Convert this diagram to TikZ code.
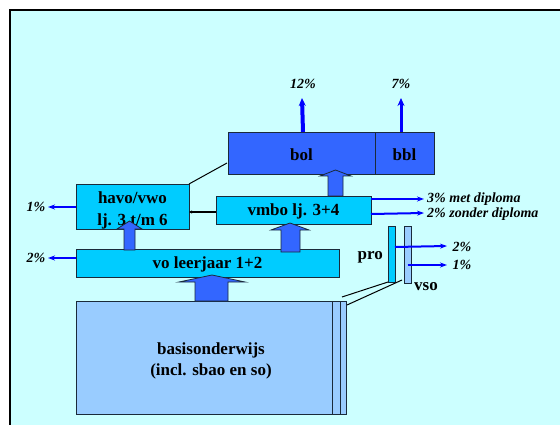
\documentclass[tikz,border=0pt]{standalone}
\usepackage{fontspec}
\setmainfont{Liberation Serif}
\usetikzlibrary{arrows.meta,calc}
\definecolor{bgc}{HTML}{CCFFFF}
\definecolor{cyanbox}{HTML}{00CCFF}
\definecolor{darkbox}{HTML}{3366FF}
\definecolor{lightbox}{HTML}{99CCFF}
\definecolor{arrblue}{HTML}{0000FF}
\definecolor{edge}{HTML}{1A2A3A}
\tikzset{
  box/.style={draw=edge, line width=0.8pt, inner sep=0pt, outer sep=0pt, anchor=north west,
    align=center, font=\fontsize{17}{21.5}\selectfont\bfseries},
  lab/.style={font=\fontsize{14}{16}\selectfont\bfseries\itshape, inner sep=0pt},
  side/.style={font=\fontsize{17}{19}\selectfont\bfseries, inner sep=0pt},
  bluearr/.style={draw=arrblue, line width=2pt, -{Stealth[length=7pt,width=5pt]}},
  upblue/.style={draw=arrblue, line width=4pt, -{Stealth[length=8pt,width=7pt]}},
  blockarr/.style={fill=darkbox, draw=edge, line width=0.8pt},
  link/.style={draw=black, line width=1pt},
}
\begin{document}
\begin{tikzpicture}[x=1pt,y=-1pt]
\useasboundingbox (0,0) rectangle (560,425);
\fill[white] (0,0) rectangle (560,425);
\fill[bgc] (10,10) rectangle (560,425);
\draw[line width=2pt] (10,425) -- (10,10) -- (560,10);

% boxes
\node[box, fill=darkbox, minimum width=147pt, minimum height=42pt] (bol) at (228,132) {\rule{0pt}{15pt}bol};
\node[box, fill=darkbox, minimum width=59pt, minimum height=42pt] (bbl) at (375,132) {\rule{0pt}{15pt}bbl};
\node[box, fill=cyanbox, minimum width=113pt, minimum height=42pt] (havo) at (76,184) {\rule{0pt}{20pt}havo/vwo\\lj. 3 t/m 6};
\node[box, fill=cyanbox, minimum width=155pt, minimum height=28pt] (vmbo) at (216,196) {\rule{0pt}{15pt}vmbo lj. 3+4};
\node[box, fill=cyanbox, minimum width=263pt, minimum height=28pt] (vo) at (76,249) {\rule{0pt}{15pt}vo leerjaar 1+2};
\node[box, fill=lightbox, minimum width=270pt, minimum height=113pt] (basis) at (76,301) {\rule{0pt}{19pt}basisonderwijs\\(incl. sbao en so)};
\node[box, fill=cyanbox, minimum width=7pt, minimum height=56pt] (pro) at (388,226) {};
\node[box, fill=lightbox, minimum width=7pt, minimum height=57pt] (vso) at (404,226) {};
\draw[draw=edge, line width=0.8pt] (332,301) -- (332,414) (340,301) -- (340,414);

% side labels
\node[side, anchor=east] (prol) at (383,257) {pro};
\node[side, anchor=west] (vsol) at (414,287) {vso};

% black links
\draw[link] (havo.north east) -- (227,163);
\draw[link, line width=1.8pt, -{Stealth[length=3pt,width=3pt]}] (vmbo.west |- 0,212) -- (havo.east |- 0,212);
\draw[link] (342,297) -- (pro.south west);
\draw[link] (347,305) -- (402,280);

% block arrows
\draw[blockarr] (195,301) -- (195,282) -- (179,282) -- (212,275) -- (245,282) -- (228,282) -- (228,301) -- cycle;
\draw[blockarr] (124,250) -- (124,229) -- (117,229) -- (129.5,221) -- (142,229) -- (135,229) -- (135,250) -- cycle;
\draw[blockarr] (281,252) -- (281,230) -- (271,230) -- (290,223) -- (309,230) -- (300,230) -- (300,252) -- cycle;
\draw[blockarr] (328,196) -- (328,176) -- (320,176) -- (335.5,170) -- (351,176) -- (343,176) -- (343,196) -- cycle;

% labels
\node[lab] (l12) at (303,84) {12\%};
\node[lab] (l7) at (401,84) {7\%};
\node[lab] (l1a) at (36,207) {1\%};
\node[lab] (l2a) at (36,258) {2\%};
\node[lab, anchor=west] (l3) at (427,199) {3\% met diploma};
\node[lab, anchor=west] (l2z) at (427,214) {2\% zonder diploma};
\node[lab] (l2p) at (462,247) {2\%};
\node[lab] (l1v) at (462,265) {1\%};

% blue arrows
\draw[upblue] (bol.north -| l12) -- (302,98);
\draw[upblue, line width=3pt] (bbl.north -| l7) -- (401,98);
\draw[bluearr] (havo.west |- l1a) -- (48,207);
\draw[bluearr] (vo.west |- l2a) -- (48,258);
\draw[bluearr] (vmbo.east |- l3) -- (424,199);
\draw[bluearr] (vmbo.east |- l2z) -- (424,213);
\draw[bluearr] (pro.east |- l2p) -- (447,246);
\draw[bluearr] (vso.center |- l1v) -- (447,265);
\end{tikzpicture}
\end{document}
